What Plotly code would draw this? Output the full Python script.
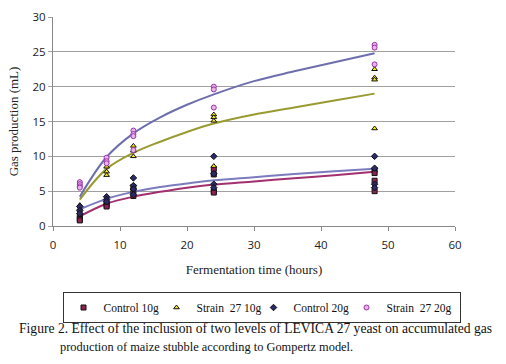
import plotly.graph_objects as go

# Observed replicate values (x = hours)
c10_x = [4, 4, 4, 8, 8, 8, 12, 12, 12, 24, 24, 24, 24, 48, 48, 48, 48]
c10_y = [1.5, 1.0, 0.8, 3.3, 3.0, 2.8, 5.6, 5.0, 4.3, 8.2, 7.4, 5.0, 4.8, 8.0, 7.6, 6.5, 5.0]

s10_x = [4, 4, 8, 8, 8, 12, 12, 12, 24, 24, 24, 24, 48, 48, 48, 48]
s10_y = [3.0, 2.5, 8.5, 7.8, 7.3, 11.5, 10.8, 10.0, 16.0, 15.6, 15.1, 8.6, 22.5, 21.3, 21.0, 14.0]

c20_x = [4, 4, 4, 8, 8, 8, 12, 12, 12, 12, 24, 24, 24, 24, 48, 48, 48, 48]
c20_y = [2.8, 2.2, 1.8, 4.2, 3.8, 3.5, 6.9, 5.8, 5.3, 4.5, 10.0, 7.5, 6.0, 5.5, 10.0, 8.3, 6.0, 5.5]

s20_x = [4, 4, 4, 4, 8, 8, 8, 12, 12, 12, 12, 24, 24, 24, 48, 48, 48]
s20_y = [6.3, 6.0, 5.7, 5.5, 9.8, 9.3, 9.0, 13.7, 13.2, 12.9, 10.9, 20.0, 19.6, 17.0, 26.0, 25.6, 23.2]

# Fitted Gompertz curves
fit_x = [4, 8, 12, 16, 20, 24, 30, 36, 42, 48]
fit_c10 = [1.4, 3.2, 4.2, 4.9, 5.5, 5.95, 6.4, 6.85, 7.3, 7.8]
fit_s10 = [3.8, 8.2, 10.5, 12.1, 13.5, 14.7, 16.0, 17.0, 18.0, 19.0]
fit_c20 = [2.4, 3.9, 4.9, 5.6, 6.1, 6.55, 7.0, 7.45, 7.85, 8.2]
fit_s20 = [4.2, 9.9, 13.3, 15.6, 17.4, 18.9, 20.8, 22.2, 23.5, 24.8]

x_ticks = [0, 10, 20, 30, 40, 50, 60]
y_ticks = [0, 5, 10, 15, 20, 25, 30]

fig = go.Figure()

line_specs = [
    (fit_c10, "#A3306E"),
    (fit_s10, "#9A9A32"),
    (fit_c20, "#7B7BBE"),
    (fit_s20, "#6E6EAE"),
]
for ys, col in line_specs:
    fig.add_trace(go.Scatter(x=fit_x, y=ys, mode="lines", line=dict(color=col, width=2, shape="spline", smoothing=1.0),
                             showlegend=False, hoverinfo="skip"))

marker_specs = [
    ("Control 10g", c10_x, c10_y, "square", "#8B2252", "#111111", 48),
    ("Strain  27 10g", s10_x, s10_y, "triangle-up", "#FFEE00", "#111111", 52),
    ("Control 20g", c20_x, c20_y, "diamond", "#2A2A6A", "#111111", 48),
    ("Strain  27 20g", s20_x, s20_y, "circle", "#E6B4E6", "#9933AA", 68),
]
for name, xs, ys, sym, fill, edge, lw in marker_specs:
    fig.add_trace(go.Scatter(x=xs, y=ys, mode="markers", name=name, legendwidth=lw,
                             marker=dict(symbol=sym, size=5, color=fill, line=dict(color=edge, width=1))))

fig.update_layout(
    width=506, height=364,
    margin=dict(l=53, r=51, t=17, b=138),
    paper_bgcolor="white", plot_bgcolor="white",
    font=dict(family="Liberation Serif", size=12, color="#222222"),
    showlegend=True,
    legend=dict(orientation="h", xref="container", yref="container",
                x=261.5 / 506, xanchor="center", y=1 - 292 / 364, yanchor="top",
                bordercolor="#333333", borderwidth=1, font=dict(family="Liberation Serif", size=11.5, color="#111111"),
                itemwidth=30, tracegroupgap=0, bgcolor="white"),
    xaxis=dict(range=[0, 60], tickvals=x_ticks, showgrid=False, zeroline=False, automargin=False,
               showline=True, linecolor="#888888", linewidth=1, ticks="outside", ticklen=4, tickcolor="#888888",
               ticklabelstandoff=4,
               tickfont=dict(family="Open Sans", size=11.5, color="#222222"),
               title=dict(text="Fermentation time (hours)", font=dict(family="Liberation Serif", size=13), standoff=14)),
    yaxis=dict(range=[0, 30], tickvals=y_ticks, showgrid=True, gridcolor="#A0A0A0", gridwidth=1, zeroline=False,
               automargin=False,
               showline=True, linecolor="#888888", linewidth=1, ticks="outside", ticklen=4, tickcolor="#A0A0A0",
               tickfont=dict(family="Open Sans", size=11.5, color="#222222"),
               title=dict(text="Gas production (mL)", font=dict(family="Liberation Serif", size=13), standoff=10)),
)

fig.add_annotation(text="Figure 2. Effect of the inclusion of two levels of LEVICA 27 yeast on accumulated gas",
                   xref="paper", yref="paper", x=(255 - 53) / 402, y=(226 - 328) / 209,
                   xanchor="center", yanchor="middle", showarrow=False,
                   font=dict(family="Liberation Serif", size=13.6, color="#111111"))
fig.add_annotation(text="production of maize stubble according to Gompertz model.",
                   xref="paper", yref="paper", x=(206 - 53) / 402, y=(226 - 347) / 209,
                   xanchor="center", yanchor="middle", showarrow=False,
                   font=dict(family="Liberation Serif", size=12.4, color="#111111"))

fig.write_html("out.html", post_script="document.body.style.margin='0';",
               config={"displayModeBar": False})
